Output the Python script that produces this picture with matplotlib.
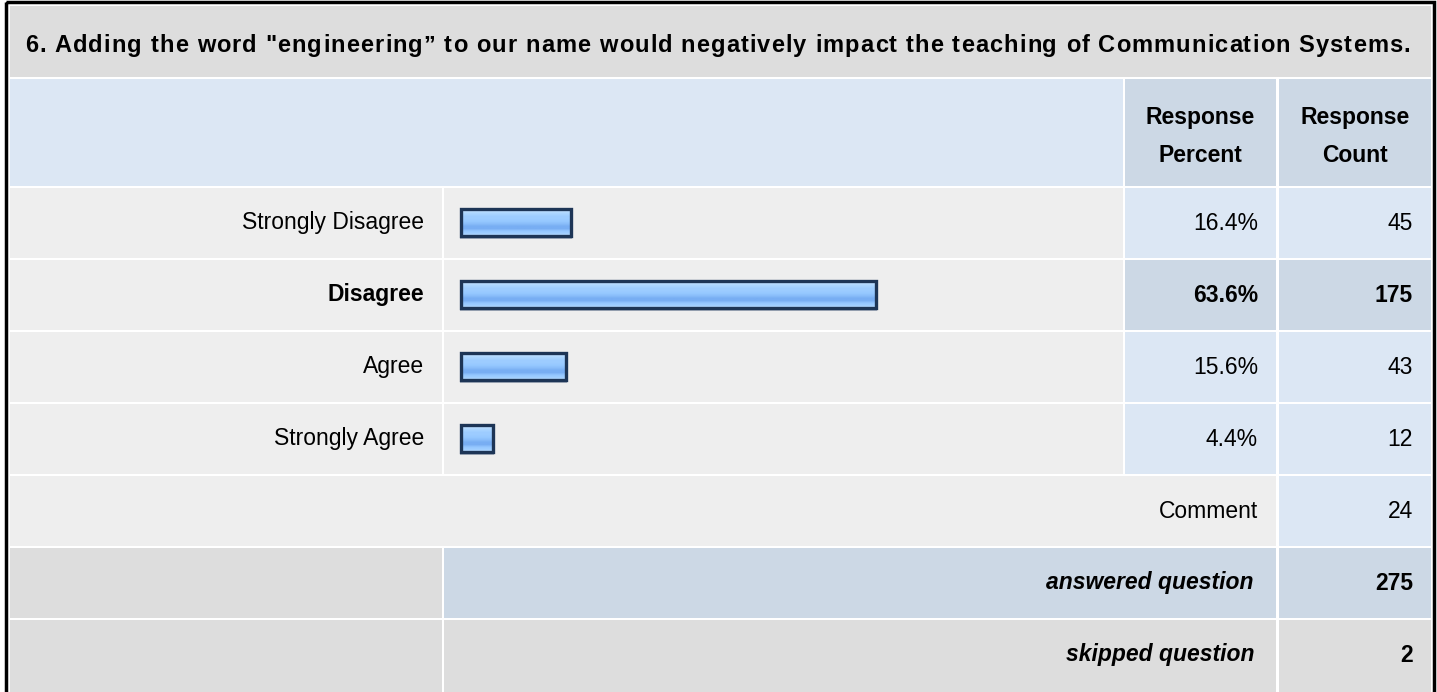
import numpy as np
import matplotlib
matplotlib.use('Agg')
import matplotlib.pyplot as plt
from matplotlib.patches import Rectangle
from matplotlib.font_manager import findfont, FontProperties
from matplotlib.ft2font import FT2Font

# Daten
titel = '6. Adding the word "engineering\u201d to our name would negatively impact the teaching of Communication Systems.'
antworten = ['Strongly Disagree', 'Disagree', 'Agree', 'Strongly Agree']
prozent = [16.4, 63.6, 15.6, 4.4]
anzahl = [45, 175, 43, 12]
kommentare = 24
beantwortet = 275
uebersprungen = 2

plt.rcParams['font.family'] = ['Liberation Sans', 'DejaVu Sans']

W, H = 1437, 692
fig = plt.figure(figsize=(W / 100, H / 100), dpi=100)
ax = fig.add_axes([0, 0, 1, 1])
ax.set_xlim(0, W)
ax.set_ylim(H, 0)
ax.axis('off')

grau = '#dddddd'
hell = '#eeeeee'
blau = '#dce7f4'
blau2 = '#ccd8e5'
fs = 16.5

# Spalten (x-Grenzen)
x_links, x_lab, x_bar, x_pct, x_cnt, x_rechts = 10, 442, 444, 1125, 1279, 1431
x_bar_end = 1123
x_pct_end = 1276

def zelle(x0, x1, y0, y1, farbe):
    ax.add_patch(Rectangle((x0, y0), x1 - x0, y1 - y0, facecolor=farbe, edgecolor='none', zorder=1))

# äußerer Rahmen
ax.add_patch(Rectangle((5.5, 2), 1428.5, 700, facecolor='none', edgecolor='black', lw=2.5, zorder=5))

# Titel - gesperrt (Zeichenabstand), damit die Zeile so breit wird wie im Original
zelle(x_links, x_rechts, 6, 77, grau)
t_fs = 17
t_prop = FontProperties(family='Liberation Sans', weight='bold', size=t_fs)
font = FT2Font(findfont(t_prop))
font.set_size(t_fs, 100)
vorschub = np.array([font.load_char(ord(c)).linearHoriAdvance for c in titel], dtype=float)
renderer = fig.canvas.get_renderer()
gesamt = renderer.get_text_width_height_descent(titel, t_prop, ismath=False)[0]
vorschub = vorschub * gesamt / vorschub.sum()
t_start, t_ende = 25, 1410
sperrung = (t_ende - t_start - vorschub.sum()) / (len(titel) - 1)
x = t_start
for c, v in zip(titel, vorschub):
    if c != ' ':
        ax.text(x, 52, c, fontproperties=t_prop, va='baseline', ha='left', zorder=3)
    x += v + sperrung

# Kopfzeile
zelle(x_links, x_bar_end, 79, 186, blau)
zelle(x_pct, x_pct_end, 79, 186, blau2)
zelle(x_cnt, x_rechts, 79, 186, blau2)
for xc in [(x_pct + x_pct_end) / 2, (x_cnt + x_rechts) / 2]:
    ax.text(xc, 124, 'Response', fontsize=fs, fontweight='bold', ha='center', va='baseline', zorder=3)
ax.text((x_pct + x_pct_end) / 2, 162, 'Percent', fontsize=fs, fontweight='bold', ha='center', va='baseline', zorder=3)
ax.text((x_cnt + x_rechts) / 2, 162, 'Count', fontsize=fs, fontweight='bold', ha='center', va='baseline', zorder=3)

# Farbverlauf für Balken
verlauf = np.array([
    [200, 228, 255], [185, 220, 255], [168, 212, 255], [158, 205, 255], [156, 204, 255],
    [150, 200, 255], [138, 190, 250], [120, 174, 243], [120, 174, 243], [148, 198, 255],
    [160, 207, 255], [190, 222, 255],
]) / 255.0
verlauf = verlauf[:, None, :]

max_idx = int(np.argmax(anzahl))
zeile_h = 70
y_start = 188
for i, (lab, p, n) in enumerate(zip(antworten, prozent, anzahl)):
    y0 = y_start + i * (zeile_h + 2)
    y1 = y0 + zeile_h
    yc = (y0 + y1) / 2
    fett = 'bold' if i == max_idx else 'normal'
    zelle(x_links, x_lab, y0, y1, hell)
    zelle(x_bar, x_bar_end, y0, y1, hell)
    zelle(x_pct, x_pct_end, y0, y1, blau2 if i == max_idx else blau)
    zelle(x_cnt, x_rechts, y0, y1, blau2 if i == max_idx else blau)
    ax.text(424, yc, lab, fontsize=fs, fontweight=fett, ha='right', va='center', zorder=3)
    ax.text(1258, yc, '{:.1f}%'.format(p), fontsize=fs, fontweight=fett, ha='right', va='center', zorder=3)
    ax.text(1413, yc, str(n), fontsize=fs, fontweight=fett, ha='right', va='center', zorder=3)
    # Balken
    bx0 = 460
    bw = 6 + 6.46 * p
    by0 = yc - 15
    bh = 29
    ax.add_patch(Rectangle((bx0, by0 + 1.5), bw, bh, facecolor='#7f8ea3', edgecolor='none', alpha=0.6, zorder=2))
    ax.imshow(verlauf, extent=(bx0, bx0 + bw, by0 + bh, by0), aspect='auto', interpolation='bilinear', zorder=3)
    ax.add_patch(Rectangle((bx0 + 1.2, by0 + 1.2), bw - 2.4, bh - 2.4, facecolor='none', edgecolor='#1d3556', lw=2.4, zorder=4))

# Kommentarzeile
y0 = y_start + 4 * (zeile_h + 2)
zelle(x_links, x_pct_end, y0, y0 + zeile_h, hell)
zelle(x_cnt, x_rechts, y0, y0 + zeile_h, blau)
ax.text(1258, y0 + zeile_h / 2, 'Comment', fontsize=fs, ha='right', va='center', zorder=3)
ax.text(1413, y0 + zeile_h / 2, str(kommentare), fontsize=fs, ha='right', va='center', zorder=3)

# beantwortet / übersprungen
y0 = y_start + 5 * (zeile_h + 2)
zelle(x_links, x_lab, y0, y0 + zeile_h, grau)
zelle(x_bar, x_pct_end, y0, y0 + zeile_h, blau2)
zelle(x_cnt, x_rechts, y0, y0 + zeile_h, blau2)
ax.text(1254, y0 + zeile_h / 2, 'answered question', fontsize=fs, fontweight='bold', style='italic', ha='right', va='center', zorder=3)
ax.text(1413, y0 + zeile_h / 2, str(beantwortet), fontsize=fs, fontweight='bold', ha='right', va='center', zorder=3)

y0 = y_start + 6 * (zeile_h + 2)
zelle(x_links, x_lab, y0, H, grau)
zelle(x_bar, x_pct_end, y0, H, grau)
zelle(x_cnt, x_rechts, y0, H, grau)
ax.text(1254, y0 + zeile_h / 2, 'skipped question', fontsize=fs, fontweight='bold', style='italic', ha='right', va='center', zorder=3)
ax.text(1413, y0 + zeile_h / 2, str(uebersprungen), fontsize=fs, fontweight='bold', ha='right', va='center', zorder=3)

fig.savefig('out.png', dpi=100, facecolor='white')
